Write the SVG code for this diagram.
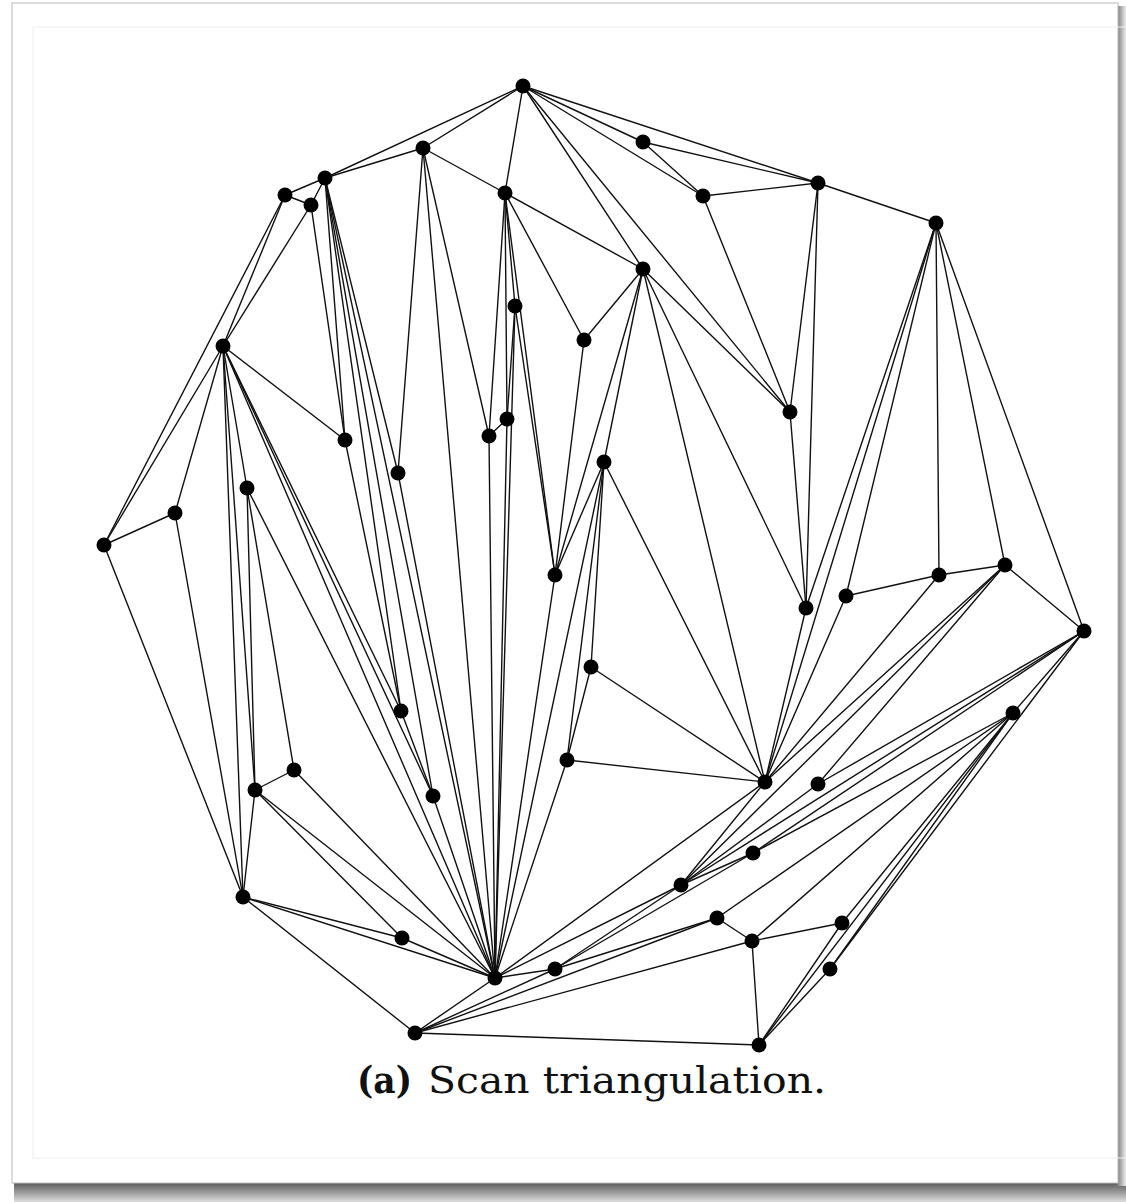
<svg xmlns="http://www.w3.org/2000/svg" width="1126" height="1202" viewBox="0 0 1126 1202">
  <defs>
    <linearGradient id="shadowBottom" x1="0" y1="0" x2="0" y2="1">
      <stop offset="0" stop-color="#555"/>
      <stop offset="1" stop-color="#ddd"/>
    </linearGradient>
    <linearGradient id="shadowRight" x1="0" y1="0" x2="1" y2="0">
      <stop offset="0" stop-color="#777"/>
      <stop offset="1" stop-color="#eee"/>
    </linearGradient>
  </defs>
  <style>
    .edge { stroke: #111; stroke-width: 1.4; fill: none; stroke-linecap: round; }
    .pt { fill: #000; }
    .cap { font-family: "DejaVu Serif", "Liberation Serif", serif; font-size: 37px; fill: #111; }
    .capb { font-weight: bold; }
  </style>

  <!-- page card with drop shadow -->
  <rect x="0" y="0" width="1126" height="1202" fill="#fff"/>
  <rect x="14" y="1182" width="1112" height="20" fill="url(#shadowBottom)"/>
  <rect x="1117" y="6" width="9" height="1180" fill="url(#shadowRight)"/>
  <rect x="12" y="3" width="1106" height="1180" fill="#fff" stroke="#bbb" stroke-width="1"/>
  <rect x="33" y="27" width="1110" height="1131" fill="none" stroke="#eee" stroke-width="1"/>

  <!-- triangulation edges -->
  <g id="edges" class="edge">
    <line x1="523" y1="86" x2="325" y2="178"/>
    <line x1="523" y1="86" x2="423" y2="148"/>
    <line x1="523" y1="86" x2="505" y2="193"/>
    <line x1="523" y1="86" x2="643" y2="142"/>
    <line x1="523" y1="86" x2="703" y2="196"/>
    <line x1="523" y1="86" x2="818" y2="183"/>
    <line x1="523" y1="86" x2="643" y2="269"/>
    <line x1="523" y1="86" x2="790" y2="412"/>
    <line x1="643" y1="142" x2="703" y2="196"/>
    <line x1="643" y1="142" x2="818" y2="183"/>
    <line x1="703" y1="196" x2="818" y2="183"/>
    <line x1="703" y1="196" x2="790" y2="412"/>
    <line x1="818" y1="183" x2="936" y2="223"/>
    <line x1="818" y1="183" x2="790" y2="412"/>
    <line x1="818" y1="183" x2="806" y2="608"/>
    <line x1="936" y1="223" x2="806" y2="608"/>
    <line x1="936" y1="223" x2="765" y2="782"/>
    <line x1="936" y1="223" x2="846" y2="596"/>
    <line x1="936" y1="223" x2="939" y2="575"/>
    <line x1="936" y1="223" x2="1005" y2="565"/>
    <line x1="936" y1="223" x2="1084" y2="631"/>
    <line x1="423" y1="148" x2="325" y2="178"/>
    <line x1="423" y1="148" x2="505" y2="193"/>
    <line x1="423" y1="148" x2="398" y2="473"/>
    <line x1="423" y1="148" x2="489" y2="436"/>
    <line x1="423" y1="148" x2="495" y2="978"/>
    <line x1="325" y1="178" x2="285" y2="195"/>
    <line x1="325" y1="178" x2="311" y2="205"/>
    <line x1="325" y1="178" x2="345" y2="440"/>
    <line x1="325" y1="178" x2="398" y2="473"/>
    <line x1="325" y1="178" x2="401" y2="711"/>
    <line x1="325" y1="178" x2="433" y2="796"/>
    <line x1="325" y1="178" x2="495" y2="978"/>
    <line x1="285" y1="195" x2="311" y2="205"/>
    <line x1="285" y1="195" x2="223" y2="346"/>
    <line x1="285" y1="195" x2="104" y2="545"/>
    <line x1="311" y1="205" x2="223" y2="346"/>
    <line x1="311" y1="205" x2="345" y2="440"/>
    <line x1="505" y1="193" x2="643" y2="269"/>
    <line x1="505" y1="193" x2="584" y2="340"/>
    <line x1="505" y1="193" x2="515" y2="306"/>
    <line x1="505" y1="193" x2="489" y2="436"/>
    <line x1="505" y1="193" x2="507" y2="419"/>
    <line x1="505" y1="193" x2="555" y2="575"/>
    <line x1="643" y1="269" x2="584" y2="340"/>
    <line x1="643" y1="269" x2="790" y2="412"/>
    <line x1="643" y1="269" x2="806" y2="608"/>
    <line x1="643" y1="269" x2="555" y2="575"/>
    <line x1="643" y1="269" x2="604" y2="462"/>
    <line x1="643" y1="269" x2="765" y2="782"/>
    <line x1="515" y1="306" x2="507" y2="419"/>
    <line x1="515" y1="306" x2="555" y2="575"/>
    <line x1="515" y1="306" x2="495" y2="978"/>
    <line x1="584" y1="340" x2="555" y2="575"/>
    <line x1="223" y1="346" x2="104" y2="545"/>
    <line x1="223" y1="346" x2="175" y2="513"/>
    <line x1="223" y1="346" x2="345" y2="440"/>
    <line x1="223" y1="346" x2="247" y2="488"/>
    <line x1="223" y1="346" x2="243" y2="897"/>
    <line x1="223" y1="346" x2="255" y2="790"/>
    <line x1="223" y1="346" x2="401" y2="711"/>
    <line x1="223" y1="346" x2="433" y2="796"/>
    <line x1="223" y1="346" x2="495" y2="978"/>
    <line x1="345" y1="440" x2="401" y2="711"/>
    <line x1="398" y1="473" x2="495" y2="978"/>
    <line x1="489" y1="436" x2="507" y2="419"/>
    <line x1="489" y1="436" x2="495" y2="978"/>
    <line x1="507" y1="419" x2="495" y2="978"/>
    <line x1="604" y1="462" x2="555" y2="575"/>
    <line x1="604" y1="462" x2="495" y2="978"/>
    <line x1="604" y1="462" x2="567" y2="760"/>
    <line x1="604" y1="462" x2="591" y2="667"/>
    <line x1="604" y1="462" x2="765" y2="782"/>
    <line x1="790" y1="412" x2="806" y2="608"/>
    <line x1="104" y1="545" x2="175" y2="513"/>
    <line x1="104" y1="545" x2="243" y2="897"/>
    <line x1="175" y1="513" x2="243" y2="897"/>
    <line x1="247" y1="488" x2="255" y2="790"/>
    <line x1="247" y1="488" x2="294" y2="770"/>
    <line x1="247" y1="488" x2="495" y2="978"/>
    <line x1="555" y1="575" x2="495" y2="978"/>
    <line x1="806" y1="608" x2="765" y2="782"/>
    <line x1="846" y1="596" x2="939" y2="575"/>
    <line x1="846" y1="596" x2="765" y2="782"/>
    <line x1="939" y1="575" x2="1005" y2="565"/>
    <line x1="939" y1="575" x2="765" y2="782"/>
    <line x1="1005" y1="565" x2="1084" y2="631"/>
    <line x1="1005" y1="565" x2="765" y2="782"/>
    <line x1="1005" y1="565" x2="681" y2="885"/>
    <line x1="1005" y1="565" x2="818" y2="784"/>
    <line x1="1084" y1="631" x2="1013" y2="713"/>
    <line x1="1084" y1="631" x2="830" y2="969"/>
    <line x1="1084" y1="631" x2="818" y2="784"/>
    <line x1="1084" y1="631" x2="681" y2="885"/>
    <line x1="1084" y1="631" x2="753" y2="853"/>
    <line x1="591" y1="667" x2="567" y2="760"/>
    <line x1="591" y1="667" x2="765" y2="782"/>
    <line x1="401" y1="711" x2="433" y2="796"/>
    <line x1="567" y1="760" x2="765" y2="782"/>
    <line x1="567" y1="760" x2="495" y2="978"/>
    <line x1="765" y1="782" x2="681" y2="885"/>
    <line x1="765" y1="782" x2="495" y2="978"/>
    <line x1="818" y1="784" x2="681" y2="885"/>
    <line x1="294" y1="770" x2="255" y2="790"/>
    <line x1="294" y1="770" x2="495" y2="978"/>
    <line x1="255" y1="790" x2="243" y2="897"/>
    <line x1="255" y1="790" x2="402" y2="938"/>
    <line x1="255" y1="790" x2="495" y2="978"/>
    <line x1="433" y1="796" x2="495" y2="978"/>
    <line x1="753" y1="853" x2="681" y2="885"/>
    <line x1="753" y1="853" x2="555" y2="969"/>
    <line x1="753" y1="853" x2="1013" y2="713"/>
    <line x1="681" y1="885" x2="495" y2="978"/>
    <line x1="681" y1="885" x2="555" y2="969"/>
    <line x1="243" y1="897" x2="402" y2="938"/>
    <line x1="243" y1="897" x2="495" y2="978"/>
    <line x1="243" y1="897" x2="415" y2="1033"/>
    <line x1="717" y1="918" x2="555" y2="969"/>
    <line x1="717" y1="918" x2="415" y2="1033"/>
    <line x1="717" y1="918" x2="752" y2="941"/>
    <line x1="717" y1="918" x2="1013" y2="713"/>
    <line x1="752" y1="941" x2="415" y2="1033"/>
    <line x1="752" y1="941" x2="759" y2="1045"/>
    <line x1="752" y1="941" x2="842" y2="923"/>
    <line x1="752" y1="941" x2="1013" y2="713"/>
    <line x1="842" y1="923" x2="1013" y2="713"/>
    <line x1="842" y1="923" x2="759" y2="1045"/>
    <line x1="1013" y1="713" x2="759" y2="1045"/>
    <line x1="1013" y1="713" x2="830" y2="969"/>
    <line x1="830" y1="969" x2="759" y2="1045"/>
    <line x1="402" y1="938" x2="495" y2="978"/>
    <line x1="495" y1="978" x2="555" y2="969"/>
    <line x1="495" y1="978" x2="415" y2="1033"/>
    <line x1="555" y1="969" x2="415" y2="1033"/>
    <line x1="415" y1="1033" x2="759" y2="1045"/>
  </g>

  <!-- vertices -->
  <g class="pt">
    <g id="p-a"><circle cx="523" cy="86" r="7.5"/></g>
    <g id="p-b"><circle cx="643" cy="142" r="7.5"/></g>
    <g id="p-c"><circle cx="703" cy="196" r="7.5"/></g>
    <g id="p-d"><circle cx="818" cy="183" r="7.5"/></g>
    <g id="p-e"><circle cx="936" cy="223" r="7.5"/></g>
    <g id="p-f"><circle cx="423" cy="148" r="7.5"/></g>
    <g id="p-g"><circle cx="325" cy="178" r="7.5"/></g>
    <g id="p-h"><circle cx="285" cy="195" r="7.5"/></g>
    <g id="p-i"><circle cx="311" cy="205" r="7.5"/></g>
    <g id="p-j"><circle cx="505" cy="193" r="7.5"/></g>
    <g id="p-k"><circle cx="643" cy="269" r="7.5"/></g>
    <g id="p-l"><circle cx="515" cy="306" r="7.5"/></g>
    <g id="p-m"><circle cx="584" cy="340" r="7.5"/></g>
    <g id="p-n"><circle cx="223" cy="346" r="7.5"/></g>
    <g id="p-o"><circle cx="345" cy="440" r="7.5"/></g>
    <g id="p-p"><circle cx="398" cy="473" r="7.5"/></g>
    <g id="p-q"><circle cx="489" cy="436" r="7.5"/></g>
    <g id="p-r"><circle cx="507" cy="419" r="7.5"/></g>
    <g id="p-s"><circle cx="604" cy="462" r="7.5"/></g>
    <g id="p-t"><circle cx="790" cy="412" r="7.5"/></g>
    <g id="p-u"><circle cx="104" cy="545" r="7.5"/></g>
    <g id="p-v"><circle cx="175" cy="513" r="7.5"/></g>
    <g id="p-w"><circle cx="247" cy="488" r="7.5"/></g>
    <g id="p-x"><circle cx="555" cy="575" r="7.5"/></g>
    <g id="p-y"><circle cx="806" cy="608" r="7.5"/></g>
    <g id="p-z"><circle cx="846" cy="596" r="7.5"/></g>
    <g id="p-aa"><circle cx="939" cy="575" r="7.5"/></g>
    <g id="p-ab"><circle cx="1005" cy="565" r="7.5"/></g>
    <g id="p-ac"><circle cx="1084" cy="631" r="7.5"/></g>
    <g id="p-ad"><circle cx="591" cy="667" r="7.5"/></g>
    <g id="p-ae"><circle cx="401" cy="711" r="7.5"/></g>
    <g id="p-af"><circle cx="1013" cy="713" r="7.5"/></g>
    <g id="p-ag"><circle cx="567" cy="760" r="7.5"/></g>
    <g id="p-ah"><circle cx="765" cy="782" r="7.5"/></g>
    <g id="p-ai"><circle cx="818" cy="784" r="7.5"/></g>
    <g id="p-aj"><circle cx="294" cy="770" r="7.5"/></g>
    <g id="p-ak"><circle cx="255" cy="790" r="7.5"/></g>
    <g id="p-al"><circle cx="433" cy="796" r="7.5"/></g>
    <g id="p-am"><circle cx="753" cy="853" r="7.5"/></g>
    <g id="p-an"><circle cx="681" cy="885" r="7.5"/></g>
    <g id="p-ao"><circle cx="243" cy="897" r="7.5"/></g>
    <g id="p-ap"><circle cx="717" cy="918" r="7.5"/></g>
    <g id="p-aq"><circle cx="752" cy="941" r="7.5"/></g>
    <g id="p-ar"><circle cx="842" cy="923" r="7.5"/></g>
    <g id="p-as"><circle cx="402" cy="938" r="7.5"/></g>
    <g id="p-at"><circle cx="495" cy="978" r="7.5"/></g>
    <g id="p-au"><circle cx="555" cy="969" r="7.5"/></g>
    <g id="p-av"><circle cx="830" cy="969" r="7.5"/></g>
    <g id="p-aw"><circle cx="415" cy="1033" r="7.5"/></g>
    <g id="p-ax"><circle cx="759" cy="1045" r="7.5"/></g>
  </g>

  <!-- caption -->
  <text class="cap capb" x="357" y="1093" textLength="55" lengthAdjust="spacingAndGlyphs">(a)</text>
  <text class="cap" x="428" y="1093" textLength="398" lengthAdjust="spacingAndGlyphs">Scan triangulation.</text>
</svg>
